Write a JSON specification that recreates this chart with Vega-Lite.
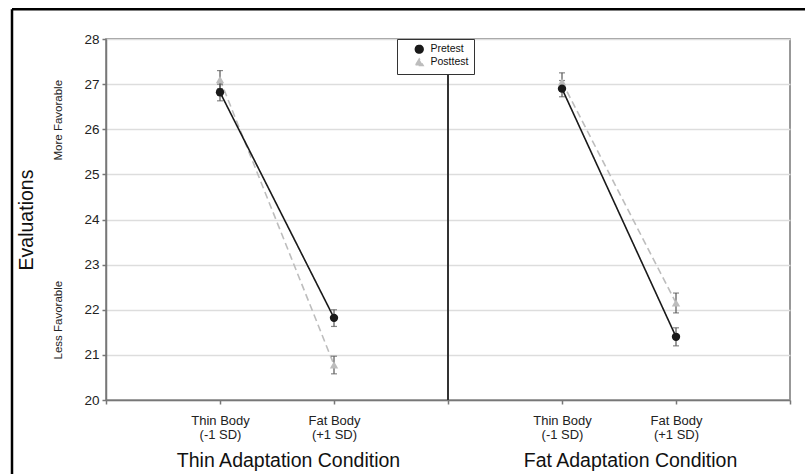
{
  "$schema": "https://vega.github.io/schema/vega-lite/v6.json",
  "width": 684,
  "height": 361,
  "autosize": {"type": "none"},
  "padding": {"left": 106, "top": 39, "right": 15, "bottom": 74},
  "background": "white",
  "config": {
    "font": "Liberation Sans",
    "view": {"stroke": "#777777", "strokeWidth": 1.5}
  },
  "data": {
    "values": [
      {"condition": "Thin Adaptation Condition", "body": "Thin Body", "cell": "thin-adapt/thin", "test": "Posttest", "mean": 27.1, "lo": 26.9, "hi": 27.3},
      {"condition": "Thin Adaptation Condition", "body": "Fat Body", "cell": "thin-adapt/fat", "test": "Posttest", "mean": 20.78, "lo": 20.58, "hi": 20.97},
      {"condition": "Fat Adaptation Condition", "body": "Thin Body", "cell": "fat-adapt/thin", "test": "Posttest", "mean": 27.05, "lo": 26.85, "hi": 27.25},
      {"condition": "Fat Adaptation Condition", "body": "Fat Body", "cell": "fat-adapt/fat", "test": "Posttest", "mean": 22.15, "lo": 21.93, "hi": 22.37},
      {"condition": "Thin Adaptation Condition", "body": "Thin Body", "cell": "thin-adapt/thin", "test": "Pretest", "mean": 26.82, "lo": 26.63, "hi": 27.0},
      {"condition": "Thin Adaptation Condition", "body": "Fat Body", "cell": "thin-adapt/fat", "test": "Pretest", "mean": 21.82, "lo": 21.63, "hi": 22.0},
      {"condition": "Fat Adaptation Condition", "body": "Thin Body", "cell": "fat-adapt/thin", "test": "Pretest", "mean": 26.9, "lo": 26.72, "hi": 27.08},
      {"condition": "Fat Adaptation Condition", "body": "Fat Body", "cell": "fat-adapt/fat", "test": "Pretest", "mean": 21.4, "lo": 21.2, "hi": 21.6}
    ]
  },
  "layer": [
    {
      "mark": {"type": "line", "strokeWidth": 1.6},
      "encoding": {
        "x": {
          "field": "cell", "type": "ordinal",
          "scale": {"type": "point", "domain": ["left-edge", "h0", "thin-adapt/thin", "thin-title", "thin-adapt/fat", "h1", "mid", "h2", "fat-adapt/thin", "fat-title", "fat-adapt/fat", "h3", "right-edge"], "padding": 0},
          "axis": {
            "title": null, "orient": "bottom",
            "values": ["left-edge", "thin-adapt/thin", "thin-title", "thin-adapt/fat", "mid", "fat-adapt/thin", "fat-title", "fat-adapt/fat", "right-edge"],
            "labelExpr": "(datum.value == 'thin-adapt/thin' || datum.value == 'fat-adapt/thin') ? ['Thin Body', '(-1 SD)'] : ((datum.value == 'thin-adapt/fat' || datum.value == 'fat-adapt/fat') ? ['Fat Body', '(+1 SD)'] : (datum.value == 'thin-title' ? 'Thin Adaptation Condition' : (datum.value == 'fat-title' ? 'Fat Adaptation Condition' : '')))",
            "labelAngle": 0, "labelAlign": "center", "labelBaseline": "top",
            "labelFontSize": {"condition": {"test": "datum.value == 'thin-title' || datum.value == 'fat-title'", "value": 19.5}, "value": 13},
            "labelPadding": {"condition": {"test": "datum.value == 'thin-title' || datum.value == 'fat-title'", "value": 47}, "value": 10},
            "labelOffset": {"condition": {"test": "datum.value == 'thin-title' || datum.value == 'fat-title'", "value": 11}, "value": 0},
            "labelColor": {"condition": {"test": "datum.value == 'thin-title' || datum.value == 'fat-title'", "value": "#111111"}, "value": "#222222"},
            "labelLineHeight": 14,
            "labelLimit": 0,
            "labelOverlap": false, "labelFlush": false,
            "tickSize": 4, "tickColor": "#777777", "tickWidth": 1.5,
            "tickOpacity": {"condition": {"test": "datum.value == 'thin-title' || datum.value == 'fat-title'", "value": 0}, "value": 1},
            "domainColor": "#777777", "domainWidth": 1.5, "grid": false
          }
        },
        "y": {
          "field": "mean", "type": "quantitative", "title": "Evaluations",
          "scale": {"domain": [20, 28], "nice": false, "zero": false},
          "axis": {
            "orient": "left",
            "values": [20, 21, 22, 23, 24, 25, 26, 27, 28],
            "tickCount": 30,
            "format": "d",
            "labelFontSize": 13.5, "labelPadding": 3, "labelColor": "#222222",
            "labelOverlap": false, "labelFlush": false,
            "tickSize": 4, "tickColor": "#777777", "tickWidth": 1.5,
            "domainColor": "#777777", "domainWidth": 1.5,
            "grid": true, "gridColor": "#dddddd", "gridWidth": 1.5,
            "titleFontSize": 19.5, "titleFontWeight": "normal", "titleColor": "#111111",
            "titleX": -80, "titleY": 180.5, "titleAngle": 270, "titleAlign": "center", "titleBaseline": "middle"
          }
        },
        "color": {"field": "test", "type": "nominal", "scale": {"domain": ["Pretest", "Posttest"], "range": ["#1a1a1a", "#bdbdbd"]}},
        "strokeDash": {"field": "test", "type": "nominal", "scale": {"domain": ["Pretest", "Posttest"], "range": [[1, 0], [7, 4]]}, "legend": null},
        "detail": {"field": "condition", "type": "nominal"}
      }
    },
    {
      "mark": {"type": "errorbar", "ticks": {"size": 6, "thickness": 1.2}, "color": "#555555", "thickness": 1.2},
      "encoding": {
        "x": {"field": "cell", "type": "ordinal"},
        "y": {"field": "lo", "type": "quantitative", "title": "Evaluations"},
        "y2": {"field": "hi"}
      }
    },
    {
      "mark": {"type": "point", "filled": true, "opacity": 1, "size": 70},
      "encoding": {
        "x": {"field": "cell", "type": "ordinal"},
        "y": {"field": "mean", "type": "quantitative", "title": "Evaluations"},
        "color": {
          "field": "test", "type": "nominal",
          "legend": {
            "title": null, "orient": "none", "legendX": 291, "legendY": 0, "direction": "vertical",
            "padding": 5, "rowPadding": -6, "strokeColor": "#333333", "fillColor": "white",
            "labelFontSize": 10.5, "labelOffset": 6, "symbolSize": 60, "symbolOffset": 12, "labelColor": "#111111"
          }
        },
        "shape": {
          "field": "test", "type": "nominal",
          "scale": {"domain": ["Pretest", "Posttest"], "range": ["circle", "triangle-up"]},
          "legend": {
            "title": null, "orient": "none", "legendX": 291, "legendY": 0, "direction": "vertical",
            "padding": 5, "rowPadding": -6, "strokeColor": "#333333", "fillColor": "white",
            "labelFontSize": 10.5, "labelOffset": 6, "symbolSize": 60, "symbolOffset": 12, "labelColor": "#111111"
          }
        }
      }
    },
    {
      "data": {"values": [{}]},
      "mark": {"type": "rule", "color": "#333333", "strokeWidth": 2},
      "encoding": {
        "x": {"datum": "mid", "type": "ordinal"}
      }
    },
    {
      "data": {"values": [{"label": "More Favorable", "level": 26.2}, {"label": "Less Favorable", "level": 21.77}]},
      "mark": {"type": "text", "angle": 270, "align": "center", "baseline": "middle", "fontSize": 11.5, "color": "#222222", "xOffset": -47},
      "encoding": {
        "x": {"datum": "left-edge", "type": "ordinal"},
        "y": {"field": "level", "type": "quantitative"},
        "text": {"field": "label", "type": "nominal"}
      }
    },
    {
      "data": {"values": [{}]},
      "mark": {"type": "rule", "color": "#000000", "strokeWidth": 2.5, "xOffset": -94, "x2Offset": 20},
      "encoding": {
        "x": {"datum": "left-edge", "type": "ordinal"},
        "x2": {"datum": "right-edge"},
        "y": {"datum": 28.66, "type": "quantitative"}
      }
    },
    {
      "data": {"values": [{}]},
      "mark": {"type": "rule", "color": "#000000", "strokeWidth": 2.5, "xOffset": -94},
      "encoding": {
        "x": {"datum": "left-edge", "type": "ordinal"},
        "y": {"datum": 28.66, "type": "quantitative"},
        "y2": {"datum": 17.5}
      }
    }
  ]
}
